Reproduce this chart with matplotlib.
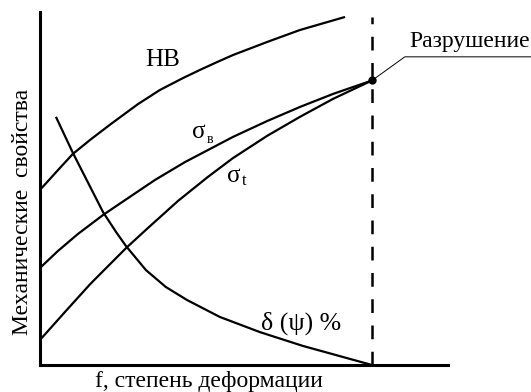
import matplotlib.pyplot as plt

plt.rcParams['font.family'] = ['Liberation Serif', 'DejaVu Serif']

# f, % of deformation up to fracture (fracture at 100); properties in relative units 0..100
hb_f = [0, 5.4, 9.9, 15.4, 21.4, 29.5, 36.1, 43.1, 48.2, 53.3, 58.1, 68.4, 78.3, 91.9]
hb_y = [49.6, 55.2, 59.8, 64.0, 68.3, 73.9, 77.9, 81.3, 83.6, 85.8, 87.8, 91.5, 94.9, 98.6]

sb_f = [0, 5.4, 11.4, 19.0, 25.6, 34.6, 43.7, 50.6, 58.1, 68.4, 78.3, 88.3, 100]
sb_y = [27.5, 32.3, 37.1, 42.5, 46.7, 52.4, 57.5, 60.9, 64.6, 69.1, 73.1, 76.8, 80.6]

st_f = [0, 7.5, 15.1, 19.0, 25.9, 32.5, 41.6, 50.6, 58.1, 68.4, 78.3, 88.3, 100]
st_y = [7.1, 15.0, 22.9, 26.6, 33.1, 38.8, 46.5, 53.3, 58.6, 64.9, 70.3, 75.4, 80.6]

d_f = [4.8, 7.5, 9.9, 14.5, 19.0, 22.9, 25.9, 31.9, 37.9, 44.3, 54.2, 66.3, 79.2, 100]
d_y = [70.3, 64.9, 60.1, 51.6, 43.3, 37.7, 33.7, 26.9, 22.1, 18.4, 13.6, 9.3, 5.4, 0]

fracture_f = 100
fracture_y = 80.6

fig = plt.figure(figsize=(5.31, 3.92), dpi=100)
ax = fig.add_axes([40 / 531, 27 / 392, 408 / 531, 353 / 392])
ax.set_xlim(0, 122.9)
ax.set_ylim(0, 100)
for s in ['top', 'right']:
    ax.spines[s].set_visible(False)
for s in ['left', 'bottom']:
    ax.spines[s].set_linewidth(2.2)
ax.set_xticks([])
ax.set_yticks([])

kw = dict(color='black', lw=1.6, clip_on=False, solid_capstyle='butt',
          solid_joinstyle='round')
ax.plot(hb_f, hb_y, **kw)
ax.plot(sb_f, sb_y, **kw)
ax.plot(st_f, st_y, **kw)
ax.plot(d_f, d_y, **kw)

# fracture line
ax.plot([fracture_f, fracture_f], [0, 98.6], color='black', lw=1.8,
        dashes=(5.5, 5), clip_on=False)
ax.plot([fracture_f], [fracture_y], 'o', color='black', ms=5, clip_on=False)
ax.plot([fracture_f, 109.9, 148], [fracture_y, 87.3, 87.3], color='black',
        lw=0.7, clip_on=False)
ax.text(111.4, 90.0, 'Разрушение', fontsize=17, ha='left', va='baseline')

# curve labels
ax.text(37.0, 86.3, 'HB', fontsize=18, ha='center', va='center')
ax.text(45.8, 64.3, 'σ', fontsize=18, ha='left', va='baseline')
ax.text(50.3, 62.9, 'в', fontsize=10, ha='left', va='baseline')
ax.text(56.3, 51.8, 'σ', fontsize=18, ha='left', va='baseline')
ax.text(60.8, 51.0, 't', fontsize=12, ha='left', va='baseline')
ax.text(78.6, 11.9, 'δ (ψ) %', fontsize=18.5, ha='center', va='center')

fig.text(23 / 531, 1 - 212 / 392, 'Механические  свойства', fontsize=17,
         rotation=90, ha='center', va='center')
fig.text(209 / 531, 1 - 387 / 392, 'f, степень деформации', fontsize=17,
         ha='center', va='baseline')

fig.savefig('out.png', dpi=100)
